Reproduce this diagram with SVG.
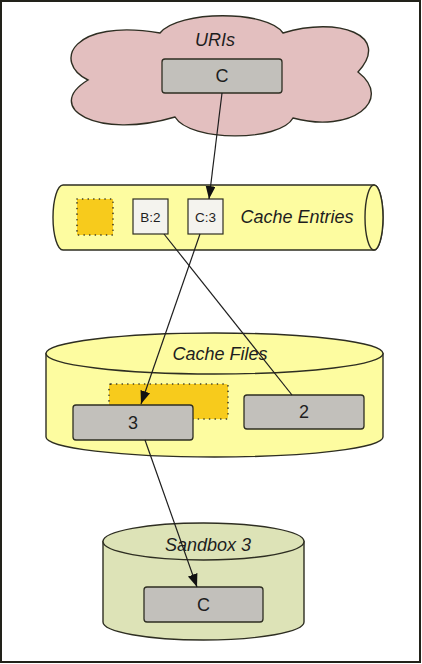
<svg xmlns="http://www.w3.org/2000/svg" width="422" height="664" viewBox="0 0 422 664">
<style>
.ol{stroke:#2e2e22;stroke-width:1.4;}
.box{fill:#c2c0bb;stroke:#2e2e22;stroke-width:1.3;}
.ent{fill:#f4f3ee;stroke:#2e2e22;stroke-width:1.2;}
.dot{fill:#f7cb1c;stroke:#2e2e22;stroke-width:1.6;stroke-dasharray:0.1 5.5;stroke-linecap:round;}
.lbl{font-family:"Liberation Sans",Arial,sans-serif;font-style:italic;font-size:18px;fill:#1e1e1e;text-anchor:middle;}
.val{font-family:"Liberation Sans",Arial,sans-serif;font-size:18px;fill:#1e1e1e;text-anchor:middle;}
.sm{font-family:"Liberation Sans",Arial,sans-serif;font-size:13.5px;fill:#1e1e1e;text-anchor:middle;}
.conn{stroke:#1e1e1e;stroke-width:1.2;fill:none;}
</style>
<defs>
<marker id="arr" markerWidth="14" markerHeight="12" refX="13" refY="5" orient="auto" markerUnits="userSpaceOnUse">
<path d="M0,0 L13,5 L0,10 Z" fill="#111"/>
</marker>
</defs>
<rect x="1" y="1" width="419" height="661" fill="#ffffff" stroke="#22221a" stroke-width="2"/>

<g id="uris">
<path class="ol" fill="#e3bfbf" d="M88,80 C52,62 72,18 160,33 C178,10 268,10 283,33 C338,16 392,35 358,72 C394,100 352,134 293,118 C280,142 190,142 175,117 C98,140 42,108 88,80 Z"/>
<text class="lbl" x="215" y="46">URIs</text>
<rect class="box" x="162" y="59" width="120" height="34" rx="3"/>
<text class="val" x="222" y="82">C</text>
</g>

<g id="cache-entries">
<path class="ol" fill="#fdfca0" d="M63,185 H374 A9,32.5 0 0 1 374,250 H63 A10,32.5 0 0 1 63,185 Z"/>
<ellipse class="ol" fill="#fdfca0" cx="374" cy="217.5" rx="9" ry="32.5"/>
<rect class="dot" x="77" y="199" width="36" height="36"/>
<rect class="ent" x="133" y="199" width="35" height="35"/>
<text class="sm" x="150.5" y="222">B:2</text>
<rect class="ent" x="188" y="199" width="35" height="35"/>
<text class="sm" x="205.5" y="222">C:3</text>
<text class="lbl" x="297" y="223">Cache Entries</text>
</g>

<g id="cache-files">
<path class="ol" fill="#fdfca0" d="M46,353.5 V437 A168.5,20 0 0 0 383,437 V353.5 Z"/>
<ellipse class="ol" fill="#fdfca0" cx="214.5" cy="353.5" rx="168.5" ry="20.5"/>
<text class="lbl" x="220" y="360">Cache Files</text>
<rect class="dot" x="109" y="384" width="119" height="35" rx="2"/>
<rect class="box" x="73" y="405" width="120" height="35" rx="3"/>
<text class="val" x="133" y="429">3</text>
<rect class="box" x="244" y="395" width="120" height="34" rx="3"/>
<text class="val" x="304" y="418">2</text>
</g>

<g id="sandbox-3">
<path class="ol" fill="#dde3b7" d="M103,541.5 V622 A100.5,18 0 0 0 304,622 V541.5 Z"/>
<ellipse class="ol" fill="#dde3b7" cx="203.5" cy="541.5" rx="100.5" ry="18.5"/>
<text class="lbl" x="208" y="551">Sandbox 3</text>
<rect class="box" x="144" y="587" width="119" height="35" rx="3"/>
<text class="val" x="203.5" y="611">C</text>
</g>

<g id="connectors">
<line class="conn" x1="222" y1="93" x2="209" y2="199" marker-end="url(#arr)"/>
<line class="conn" x1="200" y1="234" x2="141" y2="404" marker-end="url(#arr)"/>
<line class="conn" x1="164" y1="234" x2="292" y2="395"/>
<line class="conn" x1="145" y1="440" x2="197" y2="587" marker-end="url(#arr)"/>
</g>
</svg>
